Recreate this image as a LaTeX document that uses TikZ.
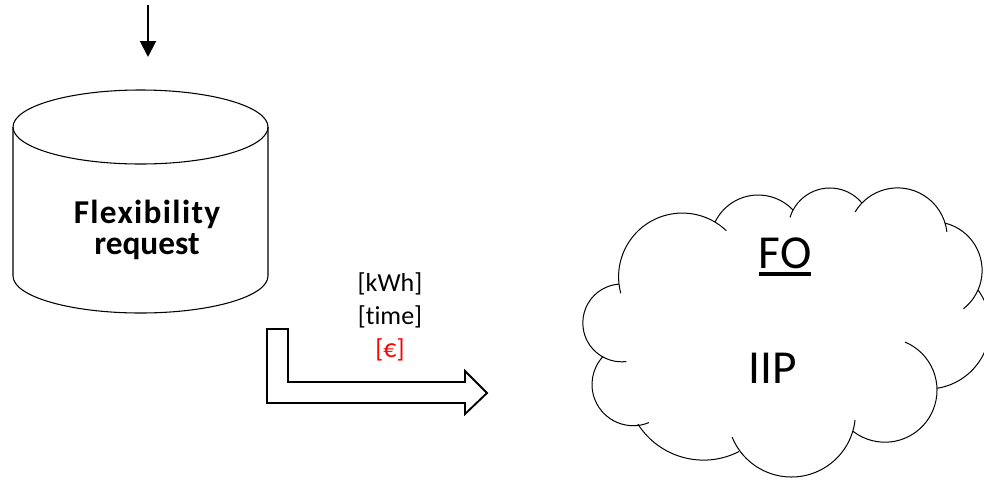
\documentclass[tikz,border=0pt]{standalone}
\usepackage{fontspec}
\setmainfont{Carlito}[Ligatures=CommonOff]
\usetikzlibrary{arrows.meta}

\newcommand{\fatul}[1]{\leavevmode\vtop{\hbox{#1}\kern 3pt\hrule height 2.4pt}}

\tikzset{
		cyl/.style={draw, line width=0.8pt},
		cloudline/.style={draw, line width=0.75pt},
		bentarrow/.style={draw, line width=1.4pt, line join=miter},
		inarrow/.style={-{Triangle[width=12pt,length=12pt]}, line width=1.5pt},
		reqtext/.style={font=\fontsize{25}{23.7}\selectfont\bfseries, align=center, inner sep=0pt},
		unittext/.style={font=\fontsize{19.5}{24.8}\selectfont, align=center, inner sep=0pt},
		cloudtext/.style={font=\fontsize{35.5}{40}\selectfont, inner sep=0pt}
	}

\begin{document}
\begin{tikzpicture}[x=0.75pt, y=-0.75pt]
				\useasboundingbox (0,0) rectangle (984,479);

				% incoming arrow
				\coordinate (src) at (148,5);
				\coordinate (dst) at (148,57);
				\draw[inarrow] (src) -- (dst);

				% database
				\draw[cyl] (13,127) -- (13,276) arc[start angle=180, end angle=0, x radius=127.5, y radius=37] -- (268,127);
				\draw[cyl] (140.5,127) ellipse[x radius=127.5, y radius=37];
				\node[reqtext] (req) at (147,230) {{\addfontfeature{LetterSpace=4}Flexibility}\\request};

				% bent arrow
				\draw[bentarrow] (267,329) -- (288,329) -- (288,382) -- (465,382) -- (465,371)
					-- (487,393) -- (465,414) -- (465,403) -- (267,403) -- cycle;
				\node[unittext] (units) at (390,317) {[kWh]\\{}[time]\\{}\textcolor{red}{[€]}};

				% cloud
				\draw[cloudline] (621.7,322.9) ++(83:38.9) arc[start angle=83, end angle=266, radius=38.9];
				\draw[cloudline] (682.3,276.75) ++(165:63.7) arc[start angle=165, end angle=313.7, radius=63.7];
				\draw[cloudline] (758.2,242.9) ++(205.8:47.9) arc[start angle=205.8, end angle=316.6, radius=47.9];
				\draw[cloudline] (829.85,229.7) ++(197.2:41.7) arc[start angle=197.2, end angle=320.3, radius=41.7];
				\draw[cloudline] (897.6,237.5) ++(211:49.6) arc[start angle=211, end angle=353.4, radius=49.6];
				\draw[cloudline] (933.4,270.4) ++(283.8:48.7) arc[start angle=283.8, end angle=412, radius=48.7];
				\draw[cloudline] (927.5,326.6) ++(324.1:62.4) arc[start angle=324.1, end angle=441.2, radius=62.4];
				\draw[cloudline] (884.9,390.1) ++(-67.3:52.1) arc[start angle=-67.3, end angle=127.5, radius=52.1];
				\draw[cloudline] (791.4,413) ++(6.2:64) arc[start angle=6.2, end angle=157.9, radius=64];
				\draw[cloudline] (703.5,382.4) ++(62.8:77.7) arc[start angle=62.8, end angle=147.6, radius=77.7];
				\draw[cloudline] (633.2,384.5) ++(67.6:41.2) arc[start angle=67.6, end angle=222.9, radius=41.2];

				\node[cloudtext, anchor=base] (fo) at (785,268) {\fatul{FO}};
				\node[cloudtext, anchor=base] (iip) at (772.5,383) {IIP};
			\end{tikzpicture}
\end{document}
